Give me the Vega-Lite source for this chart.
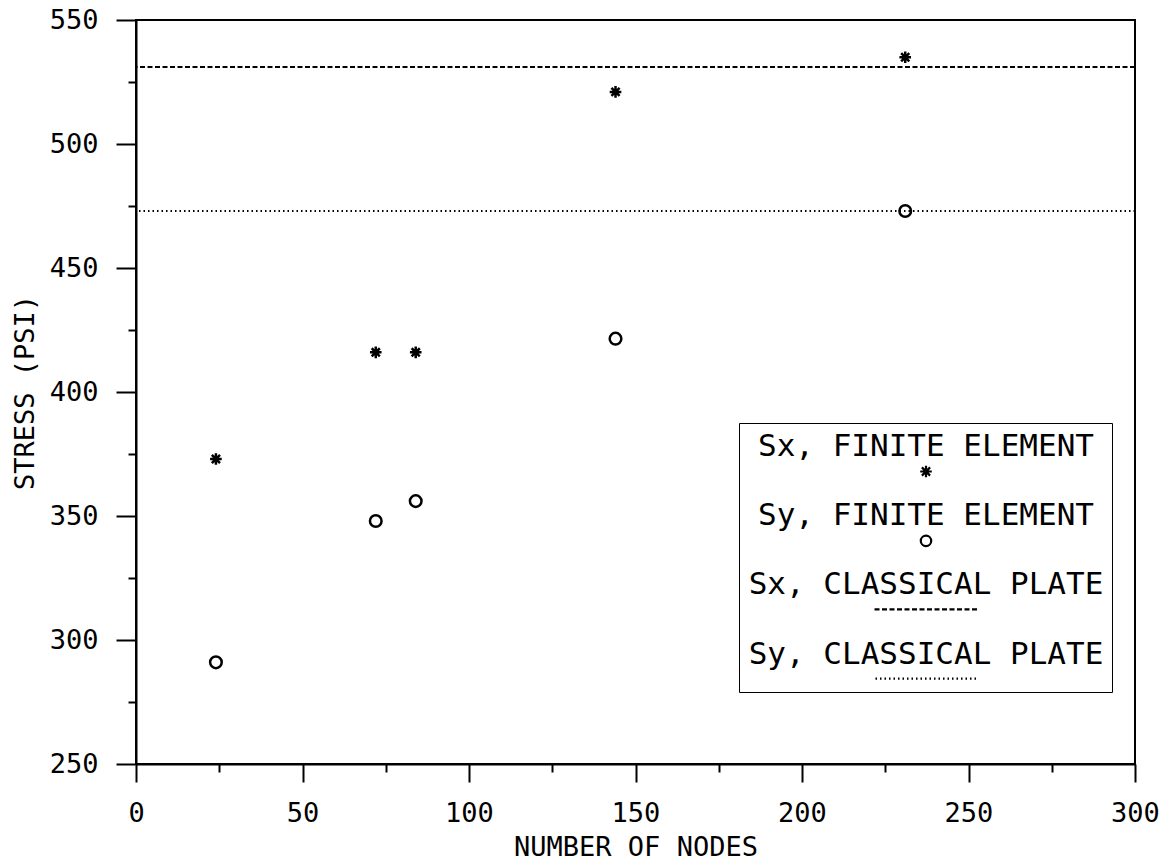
{
  "$schema": "https://vega.github.io/schema/vega-lite/v6.json",
  "width": 999,
  "height": 744,
  "autosize": {"type": "none"},
  "padding": {"left": 136, "top": 20, "right": 40, "bottom": 103},
  "background": "white",
  "config": {
    "view": {"stroke": "black", "strokeWidth": 2},
    "font": "DejaVu Sans Mono",
    "axis": {
      "labelFont": "DejaVu Sans Mono",
      "labelFontSize": 27,
      "labelColor": "black",
      "labelFlush": false,
      "labelOverlap": false,
      "titleFont": "DejaVu Sans Mono",
      "titleFontSize": 27,
      "titleFontWeight": "normal",
      "titleColor": "black",
      "domainColor": "black",
      "domainWidth": 2,
      "tickColor": "black",
      "tickWidth": 2,
      "grid": false
    }
  },
  "datasets": {
    "points": [
      {"series": "Sx, FINITE ELEMENT", "nodes": 24, "stress": 373},
      {"series": "Sx, FINITE ELEMENT", "nodes": 72, "stress": 416},
      {"series": "Sx, FINITE ELEMENT", "nodes": 84, "stress": 416},
      {"series": "Sx, FINITE ELEMENT", "nodes": 144, "stress": 521},
      {"series": "Sx, FINITE ELEMENT", "nodes": 231, "stress": 535},
      {"series": "Sy, FINITE ELEMENT", "nodes": 24, "stress": 291},
      {"series": "Sy, FINITE ELEMENT", "nodes": 72, "stress": 348},
      {"series": "Sy, FINITE ELEMENT", "nodes": 84, "stress": 356},
      {"series": "Sy, FINITE ELEMENT", "nodes": 144, "stress": 421.5},
      {"series": "Sy, FINITE ELEMENT", "nodes": 231, "stress": 473}
    ],
    "lines": [
      {"series": "Sx, CLASSICAL PLATE", "stress": 531},
      {"series": "Sy, CLASSICAL PLATE", "stress": 473}
    ]
  },
  "resolve": {"scale": {"shape": "independent"}, "legend": {"shape": "independent"}},
  "encoding": {
    "y": {
      "field": "stress",
      "type": "quantitative",
      "scale": {"domain": [250, 550], "nice": false, "zero": false},
      "axis": {
        "title": "STRESS (PSI)",
        "values": [250, 275, 300, 325, 350, 375, 400, 425, 450, 475, 500, 525, 550],
        "labelExpr": "datum.value % 50 === 0 ? datum.label : ''",
        "tickSize": {"condition": {"test": "datum.value % 50 === 0", "value": 20}, "value": 8},
        "labelPadding": 18,
        "titlePadding": 10
      }
    }
  },
  "layer": [
    {
      "data": {"name": "lines"},
      "mark": {"type": "rule", "strokeWidth": 2, "color": "black"},
      "encoding": {
        "strokeDash": {
          "field": "series",
          "type": "nominal",
          "scale": {"domain": ["Sx, CLASSICAL PLATE", "Sy, CLASSICAL PLATE"], "range": [[5, 2.5], [1.5, 3]]},
          "legend": null
        }
      }
    },
    {
      "data": {"name": "points"},
      "mark": {"type": "point", "filled": false, "strokeWidth": 2.5, "color": "black", "opacity": 1, "size": 135},
      "encoding": {
        "x": {
          "field": "nodes",
          "type": "quantitative",
          "scale": {"domain": [0, 300], "nice": false},
          "axis": {
            "title": "NUMBER OF NODES",
            "values": [0, 25, 50, 75, 100, 125, 150, 175, 200, 225, 250, 275, 300],
            "labelExpr": "datum.value % 50 === 0 ? datum.label : ''",
            "tickSize": {"condition": {"test": "datum.value % 50 === 0", "value": 18}, "value": 8},
            "labelPadding": 18,
            "titlePadding": 8
          }
        },
        "shape": {
          "field": "series",
          "type": "nominal",
          "scale": {
            "domain": ["Sx, FINITE ELEMENT", "Sy, FINITE ELEMENT"],
            "range": ["M0,-1L0,1M-1,0L1,0M-0.7,-0.7L0.7,0.7M-0.7,0.7L0.7,-0.7", "circle"]
          },
          "legend": null
        }
      }
    },
    {
      "data": {"name": "points"},
      "mark": {"type": "point", "filled": false, "strokeWidth": 2.2, "color": "black", "opacity": 0},
      "encoding": {
        "x": {"field": "nodes", "type": "quantitative"},
        "shape": {
          "field": "series",
          "type": "nominal",
          "scale": {
            "domain": ["Sx, FINITE ELEMENT", "Sy, FINITE ELEMENT", "Sx, CLASSICAL PLATE", "Sy, CLASSICAL PLATE"],
            "range": [
              "M16.35,1.92L16.35,3.08M15.77,2.5L16.93,2.5M15.94,2.09L16.76,2.91M15.94,2.91L16.76,2.09",
              "M16.87,2.5A0.52,0.52,0,1,1,15.83,2.5A0.52,0.52,0,1,1,16.87,2.5Z",
              "M11.2,2.4L11.7,2.4M11.95,2.4L12.45,2.4M12.7,2.4L13.2,2.4M13.45,2.4L13.95,2.4M14.2,2.4L14.7,2.4M14.95,2.4L15.45,2.4M15.7,2.4L16.2,2.4M16.45,2.4L16.95,2.4M17.2,2.4L17.7,2.4M17.95,2.4L18.45,2.4M18.7,2.4L19.2,2.4M19.45,2.4L19.95,2.4M20.2,2.4L20.7,2.4M20.95,2.4L21.45,2.4",
              "M11.3,2.4L11.45,2.4M11.75,2.4L11.9,2.4M12.2,2.4L12.35,2.4M12.65,2.4L12.8,2.4M13.1,2.4L13.25,2.4M13.55,2.4L13.7,2.4M14,2.4L14.15,2.4M14.45,2.4L14.6,2.4M14.9,2.4L15.05,2.4M15.35,2.4L15.5,2.4M15.8,2.4L15.95,2.4M16.25,2.4L16.4,2.4M16.7,2.4L16.85,2.4M17.15,2.4L17.3,2.4M17.6,2.4L17.75,2.4M18.05,2.4L18.2,2.4M18.5,2.4L18.65,2.4M18.95,2.4L19.1,2.4M19.4,2.4L19.55,2.4M19.85,2.4L20,2.4M20.3,2.4L20.45,2.4M20.75,2.4L20.9,2.4M21.2,2.4L21.35,2.4"
            ]
          },
          "legend": {
            "orient": "none",
            "legendX": 603,
            "legendY": 403,
            "title": null,
            "strokeColor": "black",
            "fillColor": "white",
            "padding": 8,
            "rowPadding": 17.4,
            "gridAlign": "all",
            "symbolSize": 400,
            "symbolStrokeWidth": 2.2,
            "symbolStrokeColor": "black",
            "symbolFillColor": "transparent",
            "symbolOpacity": 1,
            "labelFont": "DejaVu Sans Mono",
            "labelFontSize": 31,
            "labelColor": "black",
            "labelLimit": 0,
            "labelAlign": "center",
            "labelBaseline": "middle",
            "labelOffset": 148
          }
        }
      }
    }
  ]
}
